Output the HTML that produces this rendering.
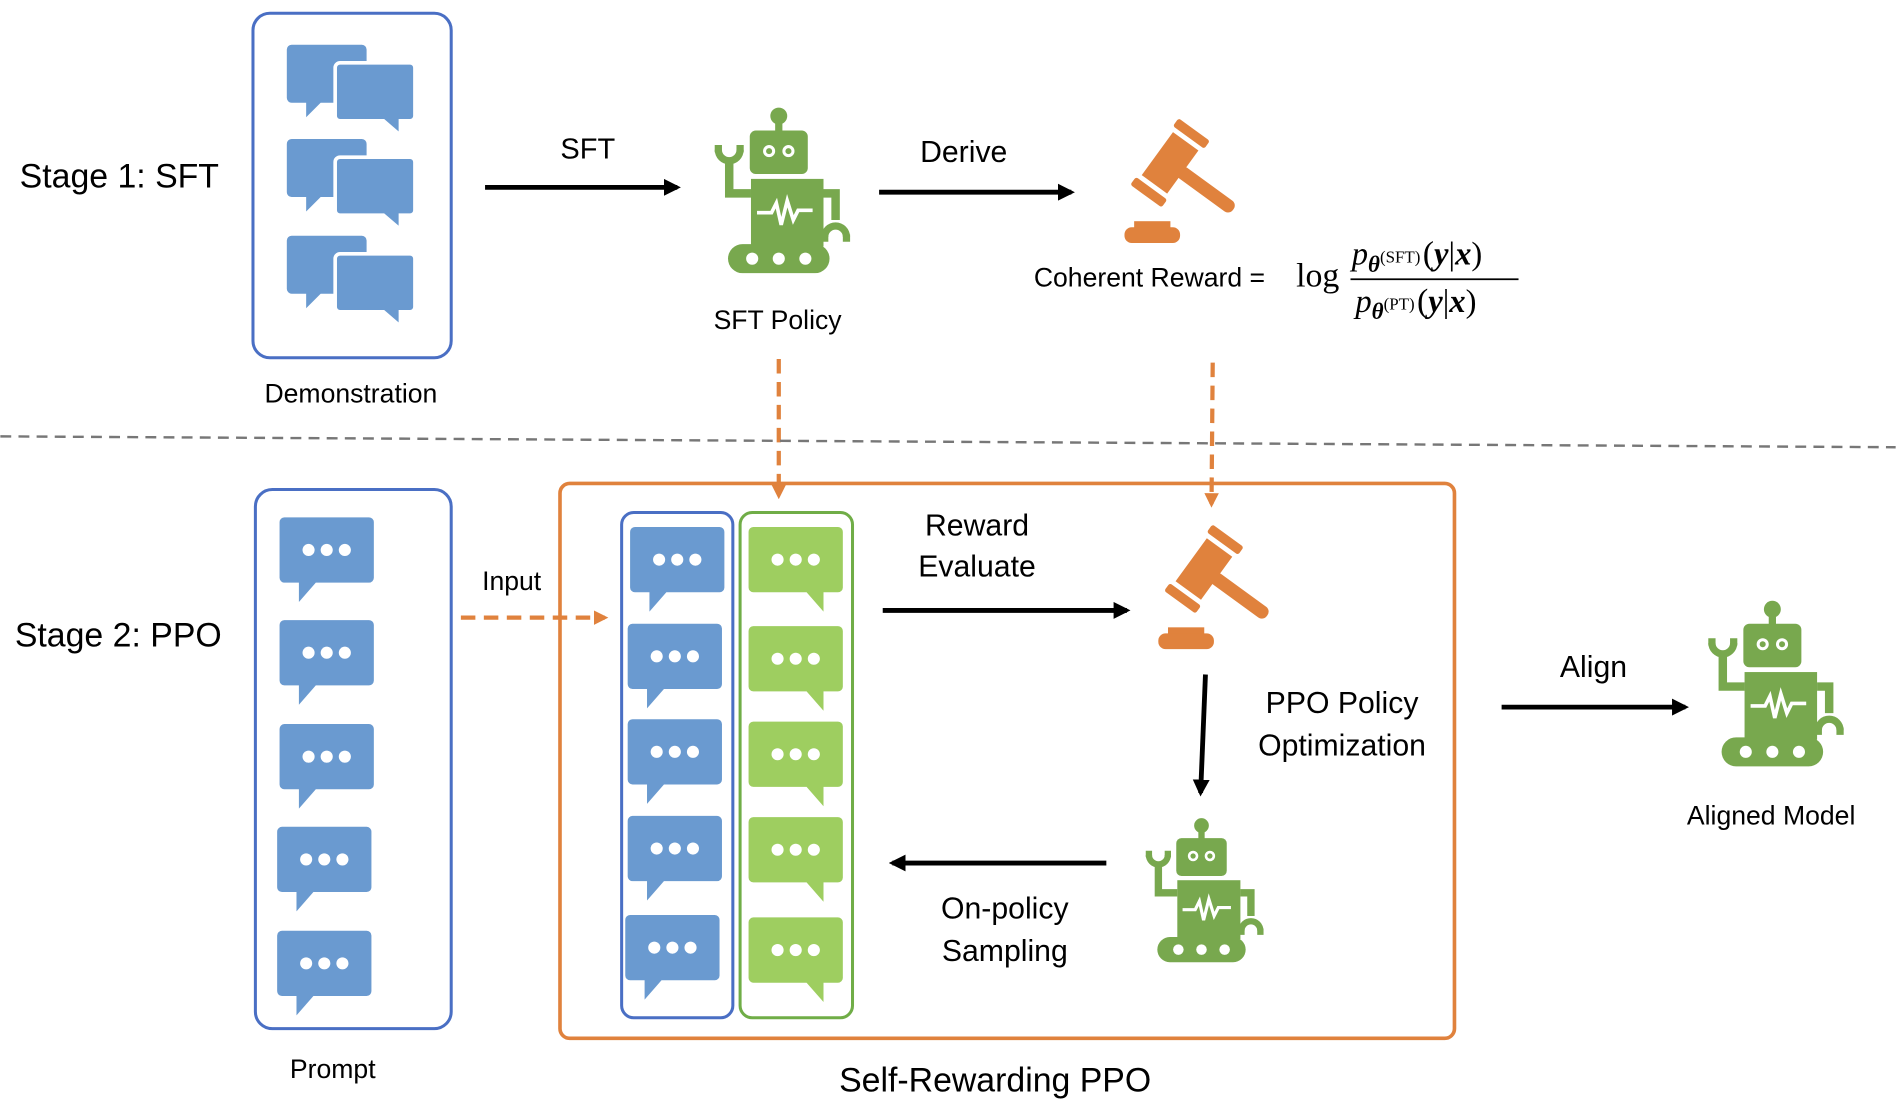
<!DOCTYPE html>
<html><head><meta charset="utf-8"><style>
html,body{margin:0;padding:0;background:#fff;}
svg{display:block;}
text{font-family:"Liberation Sans",sans-serif;fill:#000;}
.m{font-family:"Liberation Serif",serif;}
</style></head><body>
<svg width="1896" height="1106" viewBox="0 0 1568 915" xmlns="http://www.w3.org/2000/svg">
<defs>
<marker id="ab" markerWidth="14" markerHeight="14" refX="11" refY="7" orient="auto" markerUnits="userSpaceOnUse"><path d="M0,0 L14,7 L0,14 Z" fill="#000"/></marker>
<marker id="ao" markerWidth="12" markerHeight="12" refX="9" refY="6" orient="auto" markerUnits="userSpaceOnUse"><path d="M0,0 L12,6 L0,12 Z" fill="#E0823D"/></marker>
<g id="pair">
 <path d="M4,0 H62 a4,4 0 0 1 4,4 V44 a4,4 0 0 1 -4,4 H28 L16,60 V48 H4 a4,4 0 0 1 -4,-4 V4 a4,4 0 0 1 4,-4 Z" fill="#6A9AD0"/>
 <path d="M44,15 H102 a4,4 0 0 1 4,4 V59 a4,4 0 0 1 -4,4 H94 V75 L80,63 H44 a4,4 0 0 1 -4,-4 V19 a4,4 0 0 1 4,-4 Z" fill="#6A9AD0" stroke="#fff" stroke-width="3"/>
</g>
<g id="bb">
 <path d="M4,0 H74 a4,4 0 0 1 4,4 V50 a4,4 0 0 1 -4,4 H30 L16,70 V54 H4 a4,4 0 0 1 -4,-4 V4 a4,4 0 0 1 4,-4 Z" fill="#6A9AD0"/>
 <circle cx="24" cy="27" r="5" fill="#fff"/><circle cx="39" cy="27" r="5" fill="#fff"/><circle cx="54" cy="27" r="5" fill="#fff"/>
</g>
<g id="gb">
 <path d="M4,0 H74 a4,4 0 0 1 4,4 V50 a4,4 0 0 1 -4,4 H62 V70 L48,54 H4 a4,4 0 0 1 -4,-4 V4 a4,4 0 0 1 4,-4 Z" fill="#9ECE60"/>
 <circle cx="24" cy="27" r="5" fill="#fff"/><circle cx="39" cy="27" r="5" fill="#fff"/><circle cx="54" cy="27" r="5" fill="#fff"/>
</g>
<g id="robot">
 <circle cx="56" cy="8" r="7" fill="#78A84E"/>
 <rect x="53" y="8" width="6" height="16" fill="#78A84E"/>
 <rect x="32" y="20" width="48" height="36" rx="5" fill="#78A84E"/>
 <circle cx="48" cy="37" r="5" fill="#fff"/><circle cx="48" cy="37" r="2.5" fill="#78A84E"/>
 <circle cx="64" cy="37" r="5" fill="#fff"/><circle cx="64" cy="37" r="2.5" fill="#78A84E"/>
 <rect x="33" y="60" width="60" height="56" fill="#78A84E"/>
 <polyline points="38,88 50,88 54,80 58,98 63,78 68,94 72,86 84,86" fill="none" stroke="#fff" stroke-width="3"/>
 <path d="M33,72 H15 V45" fill="none" stroke="#78A84E" stroke-width="7"/>
 <path d="M3,36 a12,12 0 0 0 24,0 h-6 a6,6 0 0 1 -12,0 Z" fill="#78A84E"/>
 <path d="M3,32 h6 v6 h-6z M21,32 h6 v6 h-6z" fill="#78A84E"/>
 <path d="M93,72 H103 V94" fill="none" stroke="#78A84E" stroke-width="7"/>
 <path d="M91,108 a12,12 0 0 1 24,0 h-6 a6,6 0 0 0 -12,0 Z" fill="#78A84E"/>
 <path d="M91,106 h6 v6 h-6z M109,106 h6 v6 h-6z" fill="#78A84E"/>
 <rect x="14" y="114" width="84" height="24" rx="12" fill="#78A84E"/>
 <circle cx="34" cy="126" r="5" fill="#fff"/><circle cx="56" cy="126" r="5" fill="#fff"/><circle cx="78" cy="126" r="5" fill="#fff"/>
</g>
<g id="gavel">
 <g transform="translate(45,32) rotate(36)">
  <rect x="0" y="-5" width="56" height="11" rx="5" fill="#E0823D"/>
  <rect x="-22" y="-22" width="26" height="44" fill="#E0823D"/>
  <rect x="-25" y="-34" width="32" height="8" rx="2" fill="#E0823D"/>
  <rect x="-25" y="26" width="32" height="8" rx="2" fill="#E0823D"/>
 </g>
 <rect x="8" y="75" width="30" height="8" fill="#E0823D"/>
 <rect x="0" y="80" width="46" height="13" rx="6" fill="#E0823D"/>
</g>
</defs>

<text x="16" y="155" font-size="28">Stage 1: SFT</text>
<rect x="209" y="11" width="164" height="285" rx="14" fill="none" stroke="#4A6FC4" stroke-width="2.5"/>
<use href="#pair" x="237" y="37"/>
<use href="#pair" x="237" y="115"/>
<use href="#pair" x="237" y="195"/>
<text x="290" y="333" font-size="22" text-anchor="middle">Demonstration</text>

<line x1="401" y1="155" x2="560" y2="155" stroke="#000" stroke-width="4" marker-end="url(#ab)"/>
<text x="486" y="131" font-size="24" text-anchor="middle">SFT</text>
<use href="#robot" x="588" y="88"/>
<text x="643" y="272" font-size="22" text-anchor="middle">SFT Policy</text>

<line x1="727" y1="159" x2="886" y2="159" stroke="#000" stroke-width="4" marker-end="url(#ab)"/>
<text x="797" y="134" font-size="25" text-anchor="middle">Derive</text>
<use href="#gavel" x="930" y="108"/>

<text x="855" y="237" font-size="22">Coherent Reward =</text>
<text class="m" x="1072" y="237" font-size="28">log</text>
<text class="m" x="1118" y="219" font-size="27"><tspan font-style="italic">p</tspan><tspan font-size="19" dy="6" font-weight="bold" font-style="italic">θ</tspan><tspan font-size="14" dy="-8">(SFT)</tspan><tspan dx="2" dy="2" font-size="28">(</tspan><tspan font-weight="bold" font-style="italic">y</tspan><tspan>|</tspan><tspan font-weight="bold" font-style="italic">x</tspan><tspan>)</tspan></text>
<line x1="1117" y1="231" x2="1256" y2="231" stroke="#000" stroke-width="1.5"/>
<text class="m" x="1121" y="258" font-size="27"><tspan font-style="italic">p</tspan><tspan font-size="19" dy="6" font-weight="bold" font-style="italic">θ</tspan><tspan font-size="14" dy="-8">(PT)</tspan><tspan dx="2" dy="2" font-size="28">(</tspan><tspan font-weight="bold" font-style="italic">y</tspan><tspan>|</tspan><tspan font-weight="bold" font-style="italic">x</tspan><tspan>)</tspan></text>

<line x1="644" y1="297" x2="644" y2="410" stroke="#E0823D" stroke-width="3.5" stroke-dasharray="12,7" marker-end="url(#ao)"/>
<line x1="1003" y1="300" x2="1002" y2="417" stroke="#E0823D" stroke-width="3.5" stroke-dasharray="12,7" marker-end="url(#ao)"/>

<line x1="0" y1="361" x2="1568" y2="370" stroke="#777" stroke-width="2" stroke-dasharray="9,6"/>

<text x="12" y="535" font-size="28">Stage 2: PPO</text>
<rect x="211" y="405" width="162" height="446" rx="14" fill="none" stroke="#4A6FC4" stroke-width="2.5"/>
<use href="#bb" x="231" y="428"/>
<use href="#bb" x="231" y="513"/>
<use href="#bb" x="231" y="599"/>
<use href="#bb" x="229" y="684"/>
<use href="#bb" x="229" y="770"/>
<text x="275" y="892" font-size="22" text-anchor="middle">Prompt</text>

<line x1="381" y1="511" x2="500" y2="511" stroke="#E0823D" stroke-width="3.5" stroke-dasharray="12,7" marker-end="url(#ao)"/>
<text x="423" y="488" font-size="22" text-anchor="middle">Input</text>

<rect x="463" y="400" width="740" height="459" rx="8" fill="none" stroke="#E0823D" stroke-width="3"/>
<text x="823" y="903" font-size="28" text-anchor="middle">Self-Rewarding PPO</text>

<rect x="514" y="424" width="92" height="418" rx="10" fill="none" stroke="#4A6FC4" stroke-width="2.5"/>
<rect x="612" y="424" width="93" height="418" rx="10" fill="none" stroke="#70AD47" stroke-width="2.5"/>
<use href="#bb" x="521" y="436"/>
<use href="#bb" x="519" y="516"/>
<use href="#bb" x="519" y="595"/>
<use href="#bb" x="519" y="675"/>
<use href="#bb" x="517" y="757"/>
<use href="#gb" x="619" y="436"/>
<use href="#gb" x="619" y="518"/>
<use href="#gb" x="619" y="597"/>
<use href="#gb" x="619" y="676"/>
<use href="#gb" x="619" y="759"/>

<text x="808" y="443" font-size="25" text-anchor="middle">Reward</text>
<text x="808" y="477" font-size="25" text-anchor="middle">Evaluate</text>
<line x1="730" y1="505" x2="932" y2="505" stroke="#000" stroke-width="4" marker-end="url(#ab)"/>
<use href="#gavel" x="958" y="444"/>

<line x1="997" y1="558" x2="993" y2="656" stroke="#000" stroke-width="4" marker-end="url(#ab)"/>
<text x="1110" y="590" font-size="25" text-anchor="middle">PPO Policy</text>
<text x="1110" y="625" font-size="25" text-anchor="middle">Optimization</text>

<g transform="translate(945,676) scale(0.87)"><use href="#robot"/></g>

<line x1="915" y1="714" x2="738" y2="714" stroke="#000" stroke-width="4" marker-end="url(#ab)"/>
<text x="831" y="760" font-size="25" text-anchor="middle">On-policy</text>
<text x="831" y="795" font-size="25" text-anchor="middle">Sampling</text>

<line x1="1242" y1="585" x2="1394" y2="585" stroke="#000" stroke-width="4" marker-end="url(#ab)"/>
<text x="1318" y="560" font-size="25" text-anchor="middle">Align</text>
<use href="#robot" x="1410" y="496"/>
<text x="1465" y="682" font-size="22" text-anchor="middle">Aligned Model</text>
</svg>
</body></html>
